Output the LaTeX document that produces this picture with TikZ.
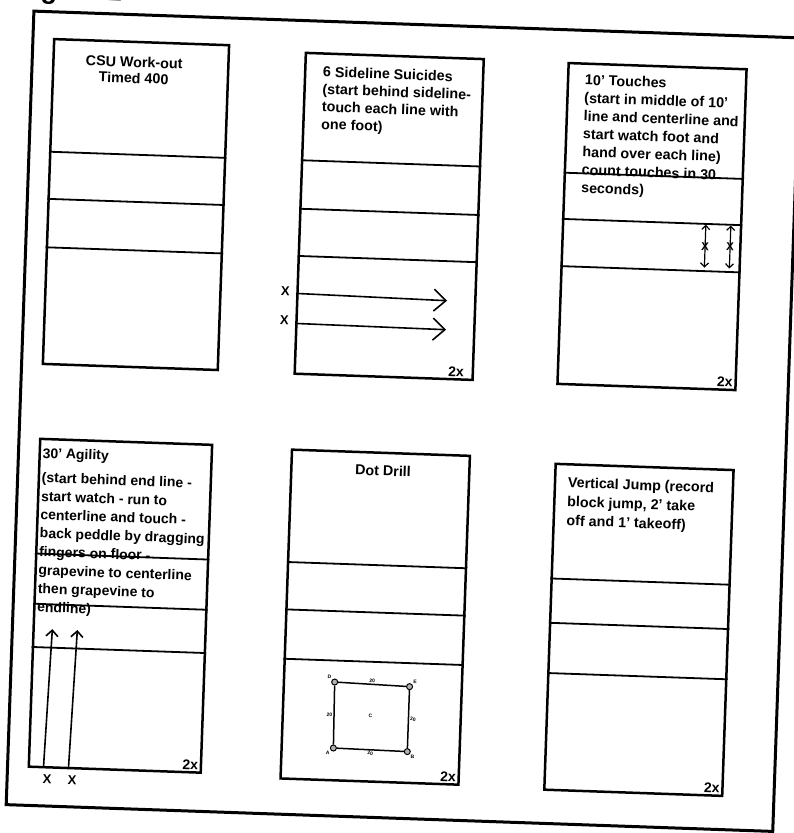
\documentclass[tikz,border=0pt]{standalone}
\usepackage{fontspec}
\setmainfont{Liberation Sans}
\usetikzlibrary{arrows.meta, positioning, calc}

\begin{document}
\begin{tikzpicture}[
  x=1pt, y=-1pt,
  outerframe/.style={draw, line width=3pt},
  court/.style={draw, line width=2.5pt, rectangle, inner sep=0pt, anchor=north west},
  divider/.style={line width=1.8pt},
  drilltext/.style={font=\bfseries\fontsize{14.3}{16}\selectfont, align=left, anchor=north west, inner sep=0pt},
  reps/.style={font=\bfseries\fontsize{14}{16}\selectfont, anchor=south east, inner sep=4pt},
  xmark/.style={font=\bfseries\fontsize{13}{15}\selectfont, inner sep=0pt},
  smallx/.style={font=\bfseries\fontsize{11.5}{13}\selectfont, inner sep=0pt},
  runarrow/.style={line width=1.6pt, -{Straight Barb[length=12pt, width=22pt, line width=1.6pt]}},
  touch/.style={line width=1.2pt, {Straight Barb[length=4pt, width=8pt]}-{Straight Barb[length=4pt, width=8pt]}},
  uparrow/.style={line width=1.6pt, -{Straight Barb[length=6pt, width=12pt, line width=1.6pt]}},
  dot/.style={circle, draw, fill=gray!60, line width=1pt, minimum size=6pt, inner sep=0pt},
  tiny/.style={font=\bfseries\fontsize{5}{6}\selectfont, inner sep=1pt},
  sqline/.style={line width=1.5pt}
]

  \useasboundingbox (0,0) rectangle (793,833);

  \begin{scope}[rotate around={-2:(396,416)}, transform shape]

  % TITRE ================================
  \node[font=\bfseries\fontsize{27}{30}\selectfont, anchor=base west, inner sep=0pt] (title) at (2,11) {Figure 1};

  % CADRE ================================
  \draw[outerframe] (20,24) rectangle (787,818);

  % TERRAINS =============================
  \node[court, minimum width=175pt, minimum height=325pt] (c1) at (40,50) {};
  \node[court, minimum width=178pt, minimum height=321pt] (c2) at (292,55) {};
  \node[court, minimum width=178pt, minimum height=321pt] (c3) at (555,56) {};
  \node[court, minimum width=172pt, minimum height=328pt] (c4) at (40,450) {};
  \node[court, minimum width=178pt, minimum height=329pt] (c5) at (292,452) {};
  \node[court, minimum width=178pt, minimum height=326pt] (c6) at (556,457) {};

  % lignes des terrains
  \foreach \c/\a/\b/\d in {c1/0.348/0.492/0.640, c2/0.336/0.486/0.632, c3/0.343/0.486/0.632,
                           c4/0.351/0.503/0.634, c5/0.343/0.486/0.635, c6/0.353/0.488/0.641}
    \foreach \f in {\a,\b,\d}
      \draw[divider] ($(\c.north west)!\f!(\c.south west)$) -- ($(\c.north east)!\f!(\c.south east)$);

  % TEXTES ===============================
  \node[drilltext, anchor=north, align=center] (t1) at (122,66) {CSU Work-out\\Timed 400};
  \node[drilltext, font=\bfseries\fontsize{14.3}{17.5}\selectfont] (t2) at (311,69) {6 Sideline Suicides\\(start behind sideline-\\touch each line with\\one foot)};
  \node[drilltext, font=\bfseries\fontsize{14.3}{18}\selectfont] (t3) at (573,68) {10' Touches\\(start in middle of 10'\\line and centerline and\\start watch foot and\\hand over each line)\\count touches in 30\\seconds)};
  \node[drilltext, font=\bfseries\fontsize{14}{18.5}\selectfont] (t4) at (44,460) {30' Agility\\[6pt](start behind end line -\\start watch - run to\\centerline and touch -\\back peddle by dragging\\fingers on floor -\\grapevine to centerline\\then grapevine to\\endline)};
  \node[drilltext, anchor=center] (t5) at (385,471) {Dot Drill};
  \node[drilltext, font=\bfseries\fontsize{14.3}{19}\selectfont] (t6) at (570,471) {Vertical Jump (record\\block jump, 2' take\\off and 1' takeoff)};

  % 2x
  \node[reps, xshift=-6pt] (rc2) at (c2.south east) {2x};
  \foreach \c in {c3,c4,c5,c6}
    \node[reps] (r\c) at (\c.south east) {2x};

  % Suicides
  \node[xmark] (x1) at (281,295) {X};
  \node[xmark] (x2) at (281,324) {X};
  \coordinate (s1start) at (294,297);
  \coordinate (s1end) at (443,299);
  \coordinate (s2start) at (294,327);
  \coordinate (s2end) at (443,328);
  \draw[runarrow] (s1start) -- (s1end);
  \draw[runarrow] (s2start) -- (s2end);

  % Touches
  \coordinate (ta1) at (699,214);
  \coordinate (ta2) at (699,257);
  \coordinate (tb1) at (724,214);
  \coordinate (tb2) at (724,257);
  \draw[touch] (ta1) -- node[smallx] (xa) {X} (ta2);
  \draw[touch] (tb1) -- node[smallx] (xb) {X} (tb2);

  % Agility
  \coordinate (a1start) at (56,778);
  \coordinate (a1end) at (60,641);
  \coordinate (a2start) at (81,778);
  \coordinate (a2end) at (85,641);
  \draw[uparrow] (a1start) -- (a1end);
  \draw[uparrow] (a2start) -- (a2end);
  \node[xmark] (x3) at (60,791) {X};
  \node[xmark] (x4) at (85,791) {X};

  % Dot drill
  \node[dot] (dA) at (345,750) {};
  \node[dot] (dB) at (419,751) {};
  \node[dot] (dE) at (419,686) {};
  \node[dot] (dD) at (344,684) {};
  \node[tiny] (dC) at (381,717) {C};
  \draw[sqline] (dA) -- node[tiny, below] {20} (dB);
  \draw[sqline] (dB) -- node[tiny, right] {20} (dE);
  \draw[sqline] (dE) -- node[tiny, above] {20} (dD);
  \draw[sqline] (dD) -- node[tiny, left] {20} (dA);
  \node[tiny, below left=0pt of dA] {A};
  \node[tiny, below right=0pt of dB] {B};
  \node[tiny, above right=0pt of dE] {E};
  \node[tiny, above left=0pt of dD] {D};

  \end{scope}
\end{tikzpicture}
\end{document}
